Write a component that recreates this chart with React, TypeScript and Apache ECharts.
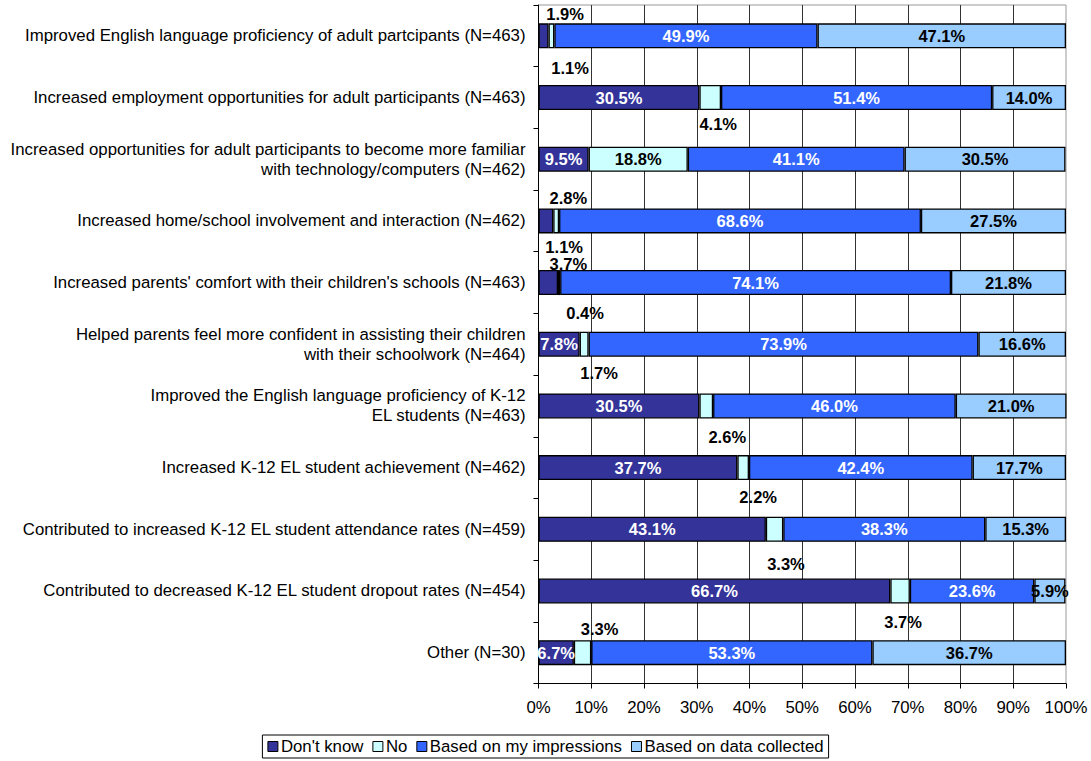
import React, { useEffect, useRef } from 'react';
import * as echarts from 'echarts';

const categories = [
  'Improved English language proficiency of adult partcipants (N=463)',
  'Increased employment opportunities for adult participants (N=463)',
  'Increased opportunities for adult participants to become more familiar\nwith technology/computers (N=462)',
  'Increased home/school involvement and interaction (N=462)',
  "Increased parents' comfort with their children's schools (N=463)",
  'Helped parents feel more confident in assisting their children\nwith their schoolwork (N=464)',
  'Improved the English language proficiency of K-12\nEL students (N=463)',
  'Increased K-12 EL student achievement (N=462)',
  'Contributed to increased K-12 EL student attendance rates (N=459)',
  'Contributed to decreased K-12 EL student dropout rates (N=454)',
  'Other (N=30)',
];

const seriesNames = ["Don't know", 'No', 'Based on my impressions', 'Based on data collected'];

const dontKnow = [1.9, 30.5, 9.5, 2.8, 3.7, 7.8, 30.5, 37.7, 43.1, 66.7, 6.7];
const no = [1.1, 4.1, 18.8, 1.1, 0.4, 1.7, 2.6, 2.2, 3.3, 3.7, 3.3];
const impressions = [49.9, 51.4, 41.1, 68.6, 74.1, 73.9, 46.0, 42.4, 38.3, 23.6, 53.3];
const dataCollected = [47.1, 14.0, 30.5, 27.5, 21.8, 16.6, 21.0, 17.7, 15.3, 5.9, 36.7];

const xMin = 0;
const xMax = 100;
const xInterval = 10;

// Offsets (px) for labels moved outside of their narrow segments: "series-index" -> [dx, dy]
const movedLabels: Record<string, [number, number]> = {
  '0-0': [21.5, -22],
  '1-0': [18.6, 32],
  '1-1': [8, 26.6],
  '0-3': [22.5, -22.6],
  '1-3': [8, 26],
  '0-4': [20, -19],
  '1-4': [26, 30.5],
  '1-5': [15, 29],
  '1-6': [21, 31],
  '1-7': [15, 29.7],
  '1-8': [11.4, 34.4],
  '1-9': [3, 31.5],
  '1-10': [17, -24],
};

const colors = ['#333399', '#CCFFFF', '#3366FF', '#99CCFF'];
const labelColors = ['#FFFFFF', '#000000', '#FFFFFF', '#000000'];
const FONT = '"Liberation Sans", Arial, Helvetica, sans-serif';

export default function App() {
  const ref = useRef<HTMLDivElement>(null);

  useEffect(() => {
    if (!ref.current) return;
    const chart = echarts.init(ref.current, undefined, { renderer: 'svg' });
    const values = [dontKnow, no, impressions, dataCollected];

    const series = values.map((arr, si) => ({
      name: seriesNames[si],
      type: 'bar',
      stack: 'total',
      barWidth: 25,
      itemStyle: { color: colors[si], borderColor: '#000', borderWidth: 1.3 },
      label: {
        show: true,
        position: 'inside',
        color: labelColors[si],
        fontFamily: FONT,
        fontWeight: 'bold',
        fontSize: 16.5,
        formatter: (p: any) => `${Number(p.value).toFixed(1)}%`,
      },
      emphasis: { disabled: true },
      data: arr.map((v, di) => {
        const off = movedLabels[`${si}-${di}`];
        if (off) {
          return { value: v, label: { offset: off, color: '#000' } };
        }
        return v;
      }),
    }));

    chart.setOption({
      animation: false,
      textStyle: { fontFamily: FONT },
      grid: {
        left: 538.5,
        right: 25,
        top: 5,
        bottom: 77.5,
        show: true,
        borderColor: '#999',
        borderWidth: 1,
        backgroundColor: 'transparent',
      },
      legend: {
        left: 'center',
        top: 735,
        data: seriesNames,
        icon: 'rect',
        itemWidth: 10,
        itemHeight: 10,
        itemGap: 9,
        padding: [3, 5, 3, 5],
        borderColor: '#000',
        borderWidth: 1,
        itemStyle: { borderColor: '#000', borderWidth: 1 },
        textStyle: { fontFamily: FONT, fontSize: 16.8, color: '#000', padding: [0, 0, 0, -2] },
      },
      xAxis: {
        type: 'value',
        min: xMin,
        max: xMax,
        interval: xInterval,
        axisLine: { show: true, lineStyle: { color: '#000', width: 1 } },
        axisTick: { show: true, length: 5, lineStyle: { color: '#000' } },
        axisLabel: {
          formatter: '{value}%',
          color: '#000',
          fontFamily: FONT,
          fontSize: 16.8,
          margin: 15,
        },
        splitLine: { show: true, showMaxLine: false, lineStyle: { color: '#333', width: 1 } },
      },
      yAxis: {
        type: 'category',
        inverse: true,
        data: categories,
        axisLine: { show: true, lineStyle: { color: '#000', width: 1 } },
        axisTick: { show: true, length: 5, lineStyle: { color: '#000' } },
        axisLabel: {
          color: '#000',
          fontFamily: FONT,
          fontSize: 16.8,
          lineHeight: 20,
          margin: 13,
          align: 'right',
        },
        splitLine: { show: false },
      },
      series,
    });

    return () => chart.dispose();
  }, []);

  return (
    <div
      ref={ref}
      style={{ position: 'fixed', left: 0, top: 0, width: 1091, height: 761, background: '#fff' }}
    />
  );
}
